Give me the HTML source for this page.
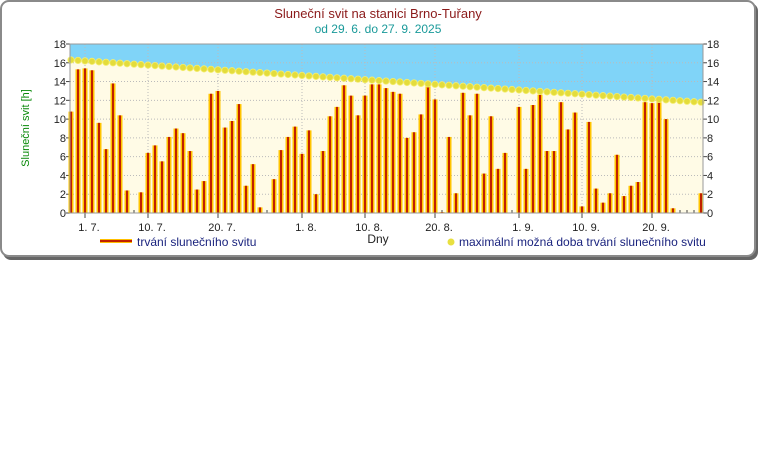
<!DOCTYPE html>
<html><head><meta charset="utf-8"><style>
html,body{margin:0;padding:0;background:#fff;width:768px;height:460px;overflow:hidden}
svg{display:block;font-family:"Liberation Sans","DejaVu Sans",sans-serif}
</style></head><body>
<svg id="s" width="768" height="460" xmlns="http://www.w3.org/2000/svg">
<rect x="3" y="3" width="755" height="257" rx="8" fill="#666"/>
<rect x="1" y="1" width="754" height="255" rx="8" fill="#fff" stroke="#8a8a8a" stroke-width="2"/>
<text x="378" y="18" font-size="13" fill="#8b1a1a" text-anchor="middle">Sluneční svit na stanici Brno-Tuřany</text>
<text x="378" y="33" font-size="12" fill="#1a9a9a" text-anchor="middle">od 29. 6. do 27. 9. 2025</text>
<rect x="70" y="44" width="633" height="169" fill="#fffbe6"/>
<g id="g"></g>
<rect x="70" y="44" width="633" height="169" fill="none" stroke="#999" stroke-width="1"/>
<text transform="translate(29,128) rotate(-90)" font-size="11" fill="#0a8a0a" text-anchor="middle">Sluneční svit [h]</text>
<text x="378" y="243" font-size="12" fill="#222" text-anchor="middle">Dny</text>
<rect x="100" y="239" width="32" height="4" fill="#ffc000"/>
<rect x="100" y="240" width="32" height="2" fill="#c02000"/>
<text x="137" y="246" font-size="12" fill="#1a237e">trvání slunečního svitu</text>
<circle cx="451" cy="242" r="3.5" fill="#e8e040"/>
<text x="459" y="246" font-size="12" fill="#1a237e">maximální možná doba trvání slunečního svitu</text>
</svg>
<script>
var v=[10.8,15.3,15.4,15.2,9.6,6.8,13.8,10.4,2.4,0,2.2,6.4,7.2,5.5,8.1,9.0,8.5,6.6,2.5,3.4,12.7,13.0,9.1,9.8,11.6,2.9,5.2,0.6,0,3.6,6.7,8.1,9.2,6.3,8.8,2.0,6.6,10.3,11.3,13.6,12.5,10.4,12.5,13.7,13.7,13.3,12.9,12.7,8.0,8.6,10.5,13.7,12.1,0.1,8.1,2.1,12.8,10.4,12.7,4.2,10.3,4.7,6.4,0,11.3,4.7,11.5,12.6,6.6,6.6,11.8,8.9,10.7,0.7,9.7,2.6,1.1,2.1,6.2,1.8,2.9,3.3,11.8,11.7,11.8,10.0,0.5,0,0,0,2.1];
var X=i=>71+i*7, Y=h=>213-h*169/18, M=i=>16.3-4.5*i/90;
var s='';
// blue area
var p='M70,44 L703,44 L703,'+Y(M(90))+' ';
for(var i=90;i>=0;i--)p+='L'+X(i)+','+Y(M(i))+' ';
p+='L70,'+Y(M(0))+'Z';
s+='<path d="'+p+'" fill="#80d4f8"/>';
// grid
for(var h=2;h<18;h+=2)s+='<line x1="70" x2="703" y1="'+Y(h)+'" y2="'+Y(h)+'" stroke="#bbb" stroke-dasharray="1,2"/>';
var t=[[2,'1. 7.'],[11,'10. 7.'],[21,'20. 7.'],[33,'1. 8.'],[42,'10. 8.'],[52,'20. 8.'],[64,'1. 9.'],[73,'10. 9.'],[83,'20. 9.']];
t.forEach(a=>{s+='<line x1="'+X(a[0])+'" x2="'+X(a[0])+'" y1="44" y2="213" stroke="#bbb" stroke-dasharray="1,2"/>';
s+='<line x1="'+X(a[0])+'" x2="'+X(a[0])+'" y1="213" y2="218" stroke="#444"/>';
s+='<text x="'+(X(a[0])+4)+'" y="231" font-size="11" fill="#222" text-anchor="middle">'+a[1]+'</text>';});
for(var i=0;i<91;i++)s+='<line x1="'+X(i)+'" x2="'+X(i)+'" y1="213" y2="210" stroke="#444"/>';
for(var h=0;h<=18;h+=2){s+='<text x="66" y="'+(Y(h)+4)+'" font-size="11" fill="#222" text-anchor="end">'+h+'</text>';
s+='<text x="707" y="'+(Y(h)+4)+'" font-size="11" fill="#222">'+h+'</text>';
s+='<line x1="66" x2="70" y1="'+Y(h)+'" y2="'+Y(h)+'" stroke="#444"/><line x1="703" x2="707" y1="'+Y(h)+'" y2="'+Y(h)+'" stroke="#444"/>';}
v.forEach((h,i)=>{if(h>0){s+='<rect x="'+(X(i)-2.5)+'" y="'+Y(h)+'" width="5" height="'+(213-Y(h))+'" fill="#ffc400"/>';
s+='<rect x="'+(X(i)-1)+'" y="'+Y(h)+'" width="2" height="'+(213-Y(h))+'" fill="#c02000"/>';}});
for(var i=0;i<91;i++)s+='<circle cx="'+X(i)+'" cy="'+Y(M(i))+'" r="3.2" fill="#e4dc3c" stroke="#f4ee70" stroke-width="0.8"/>';
document.getElementById('g').innerHTML=s;
</script>
</body></html>
